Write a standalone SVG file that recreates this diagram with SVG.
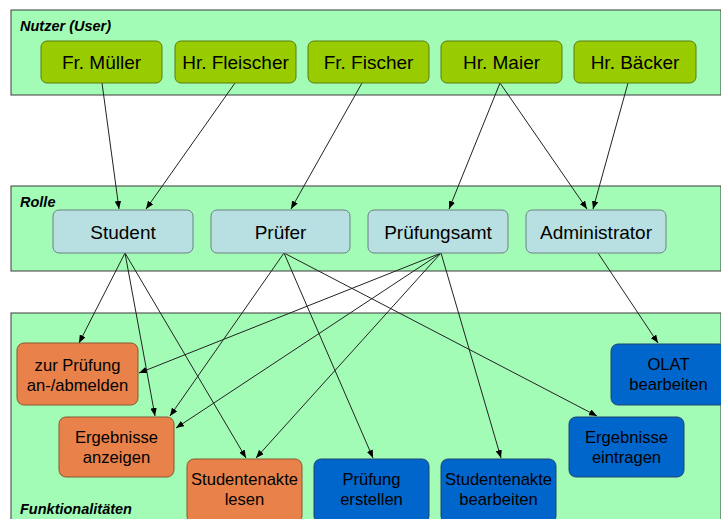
<svg xmlns="http://www.w3.org/2000/svg" width="721" height="519" viewBox="0 0 721 519">
<defs>
<marker id="ah" viewBox="0 0 10 8" refX="10" refY="4" markerWidth="8" markerHeight="6.4" markerUnits="userSpaceOnUse" orient="auto">
<path d="M0,0 L10,4 L0,8 Z" fill="#000"/>
</marker>
<style>
.panel{fill:#a2fcb6;stroke:#3a3a3a;stroke-width:1}
.lbl{font-family:"Liberation Sans",Arial,sans-serif;font-size:14.5px;font-weight:bold;font-style:italic;fill:#000}
.t{font-family:"Liberation Sans",Arial,sans-serif;font-size:19px;fill:#000;text-anchor:middle}
.s{font-family:"Liberation Sans",Arial,sans-serif;font-size:16.6px;fill:#000;text-anchor:middle}
.user{fill:#99cc00;stroke:#5b7a10;stroke-width:1}
.role{fill:#b8dfe1;stroke:#6a8086;stroke-width:1}
.orng{fill:#e8824a;stroke:#8a5530;stroke-width:1}
.blue{fill:#0066cc;stroke:#1f4470;stroke-width:1}
.c line{stroke:#222;stroke-width:1;marker-end:url(#ah)}
</style>
</defs>
<rect width="721" height="519" fill="#fff"/>
<g id="panels">
<rect class="panel" x="11" y="10" width="710" height="85"/>
<rect class="panel" x="11" y="186" width="710" height="85"/>
<rect class="panel" x="11" y="313" width="710" height="210"/>
<text class="lbl" x="20" y="31">Nutzer (User)</text>
<text class="lbl" x="20" y="207">Rolle</text>
<text class="lbl" x="20" y="514">Funktionalitäten</text>
</g>
<g id="connectors" class="c">
<line x1="102" y1="83" x2="119" y2="209"/>
<line x1="235" y1="83" x2="146" y2="209"/>
<line x1="362" y1="83" x2="291" y2="209"/>
<line x1="500" y1="83" x2="449" y2="209"/>
<line x1="500" y1="83" x2="587" y2="209"/>
<line x1="628" y1="83" x2="593" y2="209"/>
<line x1="125" y1="253" x2="79" y2="343"/>
<line x1="125" y1="253" x2="155" y2="416"/>
<line x1="125" y1="253" x2="246" y2="458"/>
<line x1="284" y1="253" x2="170" y2="416"/>
<line x1="284" y1="253" x2="373" y2="458"/>
<line x1="284" y1="253" x2="597" y2="416"/>
<line x1="441" y1="253" x2="139" y2="373"/>
<line x1="441" y1="253" x2="176" y2="428"/>
<line x1="441" y1="253" x2="256" y2="458"/>
<line x1="441" y1="253" x2="501" y2="458"/>
<line x1="598" y1="253" x2="658" y2="343"/>
</g>
<g id="u1"><rect class="user" x="41" y="41" width="121" height="42" rx="6"/><text class="t" x="101.5" y="68.5">Fr. Müller</text></g>
<g id="u2"><rect class="user" x="175" y="41" width="121" height="42" rx="6"/><text class="t" x="235.5" y="68.5">Hr. Fleischer</text></g>
<g id="u3"><rect class="user" x="308" y="41" width="121" height="42" rx="6"/><text class="t" x="368.5" y="68.5">Fr. Fischer</text></g>
<g id="u4"><rect class="user" x="441" y="41" width="121" height="42" rx="6"/><text class="t" x="501.5" y="68.5">Hr. Maier</text></g>
<g id="u5"><rect class="user" x="574" y="41" width="122" height="42" rx="6"/><text class="t" x="635" y="68.5">Hr. Bäcker</text></g>
<g id="r1"><rect class="role" x="53" y="210" width="140" height="43" rx="6"/><text class="t" x="123" y="238.5">Student</text></g>
<g id="r2"><rect class="role" x="211" y="210" width="139" height="43" rx="6"/><text class="t" x="280.5" y="238.5">Prüfer</text></g>
<g id="r3"><rect class="role" x="368" y="210" width="140" height="43" rx="6"/><text class="t" x="438" y="238.5">Prüfungsamt</text></g>
<g id="r4"><rect class="role" x="526" y="210" width="140" height="43" rx="6"/><text class="t" x="596" y="238.5">Administrator</text></g>
<g id="f1"><rect class="orng" x="17" y="343" width="121" height="62" rx="7"/><text class="s" x="77.5" y="371">zur Prüfung</text><text class="s" x="77.5" y="391">an-/abmelden</text></g>
<g id="f2"><rect class="orng" x="59" y="417" width="115" height="60" rx="7"/><text class="s" x="116.5" y="443">Ergebnisse</text><text class="s" x="116.5" y="463">anzeigen</text></g>
<g id="f3"><rect class="orng" x="187" y="459" width="115" height="64" rx="7"/><text class="s" x="244.5" y="485">Studentenakte</text><text class="s" x="244.5" y="505">lesen</text></g>
<g id="f4"><rect class="blue" x="314" y="459" width="115" height="64" rx="7"/><text class="s" x="371.5" y="485">Prüfung</text><text class="s" x="371.5" y="505">erstellen</text></g>
<g id="f5"><rect class="blue" x="441" y="459" width="115" height="64" rx="7"/><text class="s" x="498.5" y="485">Studentenakte</text><text class="s" x="498.5" y="505">bearbeiten</text></g>
<g id="f6"><rect class="blue" x="569" y="417" width="115" height="60" rx="7"/><text class="s" x="626.5" y="443">Ergebnisse</text><text class="s" x="626.5" y="463">eintragen</text></g>
<g id="f7"><rect class="blue" x="611" y="344" width="115" height="61" rx="7"/><text class="s" x="668.5" y="370">OLAT</text><text class="s" x="668.5" y="390">bearbeiten</text></g>
</svg>
